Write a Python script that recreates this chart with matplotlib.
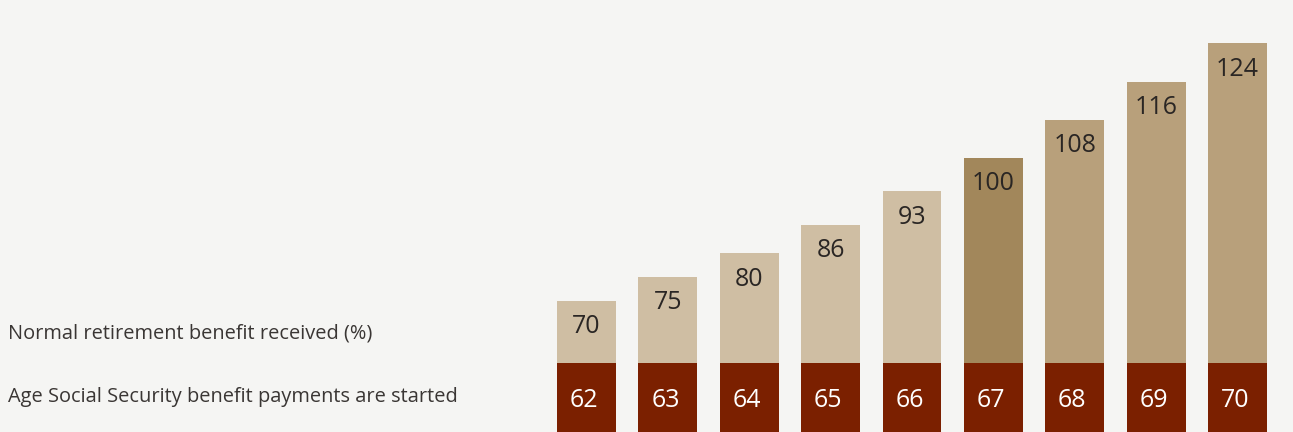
import matplotlib.pyplot as plt

ages = [62, 63, 64, 65, 66, 67, 68, 69, 70]
benefit = [70, 75, 80, 86, 93, 100, 108, 116, 124]
bar_colors = ['#cfbea3'] * 5 + ['#a2875b'] + ['#b8a07b'] * 3

bg = '#f5f5f3'
dark_red = '#7b2000'
W, H = 1293, 432

plt.rcParams['font.family'] = ['Open Sans', 'DejaVu Sans']

fig = plt.figure(figsize=(W / 100, H / 100), dpi=100)
fig.patch.set_facecolor(bg)

left = 545.8 / W
width = 732.4 / W
base = 57.0
px_per_unit = 4.77

# top part: benefit bars
ax = fig.add_axes([left, (H - 363) / H, width, 363 / H])
ax.set_facecolor(bg)
x = list(range(len(ages)))
ax.bar(x, [b - base for b in benefit], bottom=base, width=0.725, color=bar_colors)
for i, b in enumerate(benefit):
    ax.text(i, b - 2.8, str(b), ha='center', va='top', fontsize=18, color='#2a2624')
ax.set_xlim(-0.5, len(ages) - 0.5)
ax.set_ylim(base, base + 363 / px_per_unit)
ax.axis('off')

# bottom part: age boxes
ax2 = fig.add_axes([left, 0, width, 69 / H])
ax2.set_facecolor(bg)
ax2.bar(x, [1] * len(ages), width=0.725, color=dark_red)
for i, a in enumerate(ages):
    ax2.text(i - 0.03, 0.45, str(a), ha='center', va='center', fontsize=18, color='white')
ax2.set_xlim(-0.5, len(ages) - 0.5)
ax2.set_ylim(0, 1)
ax2.axis('off')

fig.text(8 / W, 1 - 334 / H, 'Normal retirement benefit received (%)',
         ha='left', va='center', fontsize=14.4, color='#3a3634')
fig.text(8 / W, 1 - 397 / H, 'Age Social Security benefit payments are started',
         ha='left', va='center', fontsize=14.4, color='#3a3634')

fig.savefig('out.png', dpi=100, facecolor=bg)
